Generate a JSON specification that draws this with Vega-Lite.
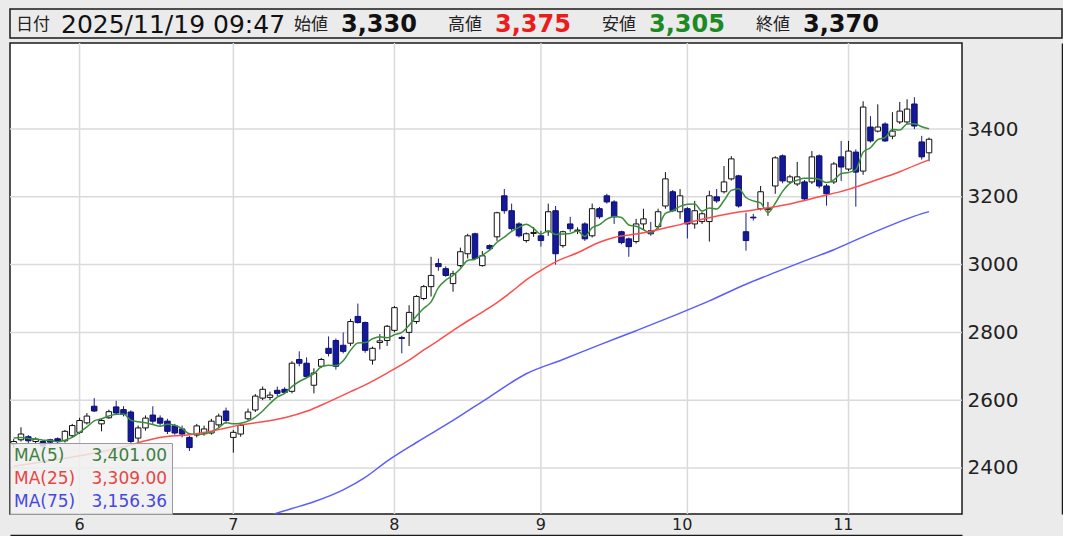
{
"$schema":"https://vega.github.io/schema/vega-lite/v6.json",
"background":"#ebebeb",
"padding":{"left":8,"top":8,"right":0,"bottom":0},
"spacing":2,
"resolve":{"scale":{"x":"independent","y":"independent","color":"independent"},"legend":{"color":"independent"}},
"config":{"font":"DejaVu Sans"},
"datasets":{
"header":[
{"k":"d","lab":"日付","val":"2025/11/19 09:47"},
{"k":"o","lab":"始値","val":"3,330"},
{"k":"h","lab":"高値","val":"3,375"},
{"k":"l","lab":"安値","val":"3,305"},
{"k":"c","lab":"終値","val":"3,370"}
],
"months":[{"d":"2025-06-02"},{"d":"2025-07-01"},{"d":"2025-08-01"},{"d":"2025-09-01"},{"d":"2025-10-01"},{"d":"2025-11-04"}],
"levels":[{"v":2400},{"v":2600},{"v":2800},{"v":3000},{"v":3200},{"v":3400}],
"candles":[
{"d":"2025-05-20","o":2470,"h":2485,"l":2460,"c":2478},
{"d":"2025-05-21","o":2483,"h":2520,"l":2478,"c":2500},
{"d":"2025-05-22","o":2492,"h":2497,"l":2472,"c":2480},
{"d":"2025-05-23","o":2478,"h":2490,"l":2470,"c":2485},
{"d":"2025-05-26","o":2478,"h":2482,"l":2455,"c":2465},
{"d":"2025-05-27","o":2483,"h":2486,"l":2466,"c":2476},
{"d":"2025-05-28","o":2486,"h":2490,"l":2470,"c":2478},
{"d":"2025-05-29","o":2480,"h":2512,"l":2475,"c":2508},
{"d":"2025-05-30","o":2495,"h":2530,"l":2490,"c":2525},
{"d":"2025-06-02","o":2505,"h":2548,"l":2500,"c":2540},
{"d":"2025-06-03","o":2533,"h":2562,"l":2528,"c":2553},
{"d":"2025-06-04","o":2582,"h":2606,"l":2565,"c":2568},
{"d":"2025-06-05","o":2530,"h":2545,"l":2508,"c":2540},
{"d":"2025-06-06","o":2548,"h":2572,"l":2545,"c":2566},
{"d":"2025-06-09","o":2580,"h":2598,"l":2556,"c":2562},
{"d":"2025-06-10","o":2572,"h":2582,"l":2552,"c":2558},
{"d":"2025-06-11","o":2565,"h":2570,"l":2470,"c":2478},
{"d":"2025-06-12","o":2488,"h":2525,"l":2470,"c":2518},
{"d":"2025-06-13","o":2518,"h":2555,"l":2510,"c":2547},
{"d":"2025-06-16","o":2556,"h":2582,"l":2530,"c":2538},
{"d":"2025-06-17","o":2547,"h":2555,"l":2525,"c":2532},
{"d":"2025-06-18","o":2538,"h":2545,"l":2500,"c":2508},
{"d":"2025-06-19","o":2524,"h":2530,"l":2498,"c":2503},
{"d":"2025-06-20","o":2515,"h":2525,"l":2490,"c":2500},
{"d":"2025-06-23","o":2490,"h":2495,"l":2450,"c":2460},
{"d":"2025-06-24","o":2497,"h":2530,"l":2490,"c":2524},
{"d":"2025-06-25","o":2503,"h":2525,"l":2495,"c":2515},
{"d":"2025-06-26","o":2503,"h":2545,"l":2498,"c":2538},
{"d":"2025-06-27","o":2527,"h":2560,"l":2520,"c":2553},
{"d":"2025-06-30","o":2568,"h":2578,"l":2530,"c":2540},
{"d":"2025-07-01","o":2490,"h":2512,"l":2445,"c":2505},
{"d":"2025-07-02","o":2500,"h":2532,"l":2492,"c":2526},
{"d":"2025-07-03","o":2545,"h":2575,"l":2540,"c":2565},
{"d":"2025-07-04","o":2571,"h":2618,"l":2565,"c":2612},
{"d":"2025-07-07","o":2606,"h":2640,"l":2600,"c":2632},
{"d":"2025-07-08","o":2608,"h":2625,"l":2600,"c":2615},
{"d":"2025-07-09","o":2629,"h":2640,"l":2612,"c":2620},
{"d":"2025-07-10","o":2632,"h":2638,"l":2618,"c":2623},
{"d":"2025-07-11","o":2626,"h":2715,"l":2620,"c":2709},
{"d":"2025-07-14","o":2720,"h":2744,"l":2700,"c":2709},
{"d":"2025-07-15","o":2709,"h":2726,"l":2665,"c":2670},
{"d":"2025-07-16","o":2644,"h":2694,"l":2620,"c":2680},
{"d":"2025-07-17","o":2700,"h":2725,"l":2695,"c":2720},
{"d":"2025-07-18","o":2753,"h":2788,"l":2729,"c":2738},
{"d":"2025-07-22","o":2776,"h":2782,"l":2690,"c":2700},
{"d":"2025-07-23","o":2762,"h":2800,"l":2738,"c":2744},
{"d":"2025-07-24","o":2768,"h":2840,"l":2760,"c":2832},
{"d":"2025-07-25","o":2847,"h":2885,"l":2826,"c":2829},
{"d":"2025-07-28","o":2829,"h":2832,"l":2740,"c":2747},
{"d":"2025-07-29","o":2718,"h":2758,"l":2705,"c":2753},
{"d":"2025-07-30","o":2770,"h":2795,"l":2750,"c":2775},
{"d":"2025-07-31","o":2776,"h":2822,"l":2760,"c":2818},
{"d":"2025-08-01","o":2806,"h":2878,"l":2800,"c":2873},
{"d":"2025-08-04","o":2785,"h":2790,"l":2738,"c":2782},
{"d":"2025-08-05","o":2800,"h":2880,"l":2760,"c":2859},
{"d":"2025-08-06","o":2832,"h":2910,"l":2825,"c":2906},
{"d":"2025-08-07","o":2900,"h":2940,"l":2895,"c":2935},
{"d":"2025-08-08","o":2935,"h":3023,"l":2906,"c":2968},
{"d":"2025-08-12","o":3003,"h":3018,"l":2982,"c":2994},
{"d":"2025-08-13","o":2988,"h":2995,"l":2964,"c":2968},
{"d":"2025-08-14","o":2944,"h":2982,"l":2920,"c":2973},
{"d":"2025-08-15","o":2997,"h":3050,"l":2992,"c":3038},
{"d":"2025-08-18","o":3032,"h":3091,"l":3018,"c":3085},
{"d":"2025-08-19","o":3091,"h":3094,"l":3015,"c":3018},
{"d":"2025-08-20","o":2997,"h":3040,"l":2994,"c":3026},
{"d":"2025-08-21","o":3056,"h":3060,"l":3040,"c":3047},
{"d":"2025-08-22","o":3082,"h":3156,"l":3070,"c":3153},
{"d":"2025-08-25","o":3203,"h":3223,"l":3150,"c":3159},
{"d":"2025-08-26","o":3159,"h":3180,"l":3100,"c":3106},
{"d":"2025-08-27","o":3120,"h":3125,"l":3080,"c":3085},
{"d":"2025-08-28","o":3071,"h":3095,"l":3065,"c":3091},
{"d":"2025-08-29","o":3092,"h":3111,"l":3082,"c":3095},
{"d":"2025-09-01","o":3085,"h":3100,"l":3053,"c":3071},
{"d":"2025-09-02","o":3097,"h":3180,"l":3085,"c":3156},
{"d":"2025-09-03","o":3159,"h":3173,"l":3000,"c":3032},
{"d":"2025-09-04","o":3056,"h":3100,"l":3050,"c":3097},
{"d":"2025-09-05","o":3120,"h":3141,"l":3097,"c":3106},
{"d":"2025-09-08","o":3100,"h":3110,"l":3090,"c":3102},
{"d":"2025-09-09","o":3120,"h":3125,"l":3070,"c":3076},
{"d":"2025-09-10","o":3085,"h":3180,"l":3080,"c":3165},
{"d":"2025-09-11","o":3165,"h":3170,"l":3135,"c":3141},
{"d":"2025-09-12","o":3203,"h":3209,"l":3180,"c":3185},
{"d":"2025-09-16","o":3185,"h":3190,"l":3120,"c":3141},
{"d":"2025-09-17","o":3097,"h":3100,"l":3060,"c":3065},
{"d":"2025-09-18","o":3076,"h":3080,"l":3023,"c":3053},
{"d":"2025-09-19","o":3068,"h":3135,"l":3062,"c":3120},
{"d":"2025-09-22","o":3120,"h":3165,"l":3105,"c":3135},
{"d":"2025-09-24","o":3100,"h":3126,"l":3085,"c":3091},
{"d":"2025-09-25","o":3112,"h":3165,"l":3105,"c":3156},
{"d":"2025-09-26","o":3173,"h":3273,"l":3165,"c":3253},
{"d":"2025-09-29","o":3215,"h":3220,"l":3155,"c":3159},
{"d":"2025-09-30","o":3156,"h":3223,"l":3135,"c":3203},
{"d":"2025-10-01","o":3165,"h":3170,"l":3077,"c":3120},
{"d":"2025-10-02","o":3120,"h":3188,"l":3106,"c":3159},
{"d":"2025-10-03","o":3127,"h":3155,"l":3120,"c":3150},
{"d":"2025-10-06","o":3127,"h":3218,"l":3068,"c":3203},
{"d":"2025-10-07","o":3200,"h":3223,"l":3182,"c":3188},
{"d":"2025-10-08","o":3215,"h":3291,"l":3210,"c":3244},
{"d":"2025-10-09","o":3253,"h":3320,"l":3248,"c":3312},
{"d":"2025-10-10","o":3262,"h":3265,"l":3168,"c":3173},
{"d":"2025-10-14","o":3097,"h":3153,"l":3041,"c":3071},
{"d":"2025-10-15","o":3140,"h":3150,"l":3130,"c":3138},
{"d":"2025-10-16","o":3165,"h":3232,"l":3160,"c":3215},
{"d":"2025-10-17","o":3163,"h":3185,"l":3144,"c":3166},
{"d":"2025-10-20","o":3232,"h":3320,"l":3209,"c":3315},
{"d":"2025-10-21","o":3321,"h":3325,"l":3240,"c":3247},
{"d":"2025-10-22","o":3244,"h":3265,"l":3238,"c":3259},
{"d":"2025-10-23","o":3238,"h":3303,"l":3232,"c":3259},
{"d":"2025-10-24","o":3244,"h":3250,"l":3188,"c":3194},
{"d":"2025-10-27","o":3244,"h":3335,"l":3238,"c":3318},
{"d":"2025-10-28","o":3321,"h":3325,"l":3225,"c":3232},
{"d":"2025-10-29","o":3232,"h":3238,"l":3174,"c":3209},
{"d":"2025-10-30","o":3244,"h":3303,"l":3238,"c":3297},
{"d":"2025-10-31","o":3318,"h":3365,"l":3247,"c":3288},
{"d":"2025-11-04","o":3282,"h":3365,"l":3276,"c":3335},
{"d":"2025-11-05","o":3332,"h":3340,"l":3171,"c":3273},
{"d":"2025-11-06","o":3276,"h":3482,"l":3265,"c":3465},
{"d":"2025-11-07","o":3406,"h":3438,"l":3360,"c":3365},
{"d":"2025-11-10","o":3394,"h":3473,"l":3390,"c":3406},
{"d":"2025-11-11","o":3415,"h":3420,"l":3362,"c":3365},
{"d":"2025-11-12","o":3379,"h":3450,"l":3370,"c":3394},
{"d":"2025-11-13","o":3421,"h":3480,"l":3415,"c":3453},
{"d":"2025-11-14","o":3421,"h":3488,"l":3415,"c":3459},
{"d":"2025-11-17","o":3474,"h":3494,"l":3400,"c":3409},
{"d":"2025-11-18","o":3362,"h":3380,"l":3310,"c":3318},
{"d":"2025-11-19","o":3330,"h":3375,"l":3305,"c":3370}
],
"ma":[
{"d":"2025-05-20","s":"MA(5)","v":2488},{"d":"2025-05-21","s":"MA(5)","v":2490},{"d":"2025-05-22","s":"MA(5)","v":2487},{"d":"2025-05-23","s":"MA(5)","v":2485},{"d":"2025-05-26","s":"MA(5)","v":2482},{"d":"2025-05-27","s":"MA(5)","v":2481},{"d":"2025-05-28","s":"MA(5)","v":2477},{"d":"2025-05-29","s":"MA(5)","v":2482},{"d":"2025-05-30","s":"MA(5)","v":2490},
{"d":"2025-06-02","s":"MA(5)","v":2505},{"d":"2025-06-03","s":"MA(5)","v":2521},{"d":"2025-06-04","s":"MA(5)","v":2539},{"d":"2025-06-05","s":"MA(5)","v":2545},{"d":"2025-06-06","s":"MA(5)","v":2553},{"d":"2025-06-09","s":"MA(5)","v":2558},{"d":"2025-06-10","s":"MA(5)","v":2559},{"d":"2025-06-11","s":"MA(5)","v":2541},{"d":"2025-06-12","s":"MA(5)","v":2536},{"d":"2025-06-13","s":"MA(5)","v":2533},{"d":"2025-06-16","s":"MA(5)","v":2528},{"d":"2025-06-17","s":"MA(5)","v":2523},{"d":"2025-06-18","s":"MA(5)","v":2529},{"d":"2025-06-19","s":"MA(5)","v":2526},{"d":"2025-06-20","s":"MA(5)","v":2516},{"d":"2025-06-23","s":"MA(5)","v":2501},{"d":"2025-06-24","s":"MA(5)","v":2499},{"d":"2025-06-25","s":"MA(5)","v":2500},{"d":"2025-06-26","s":"MA(5)","v":2507},{"d":"2025-06-27","s":"MA(5)","v":2518},{"d":"2025-06-30","s":"MA(5)","v":2534},
{"d":"2025-07-01","s":"MA(5)","v":2530},{"d":"2025-07-02","s":"MA(5)","v":2532},{"d":"2025-07-03","s":"MA(5)","v":2538},{"d":"2025-07-04","s":"MA(5)","v":2550},{"d":"2025-07-07","s":"MA(5)","v":2568},{"d":"2025-07-08","s":"MA(5)","v":2590},{"d":"2025-07-09","s":"MA(5)","v":2609},{"d":"2025-07-10","s":"MA(5)","v":2620},{"d":"2025-07-11","s":"MA(5)","v":2640},{"d":"2025-07-14","s":"MA(5)","v":2655},{"d":"2025-07-15","s":"MA(5)","v":2666},{"d":"2025-07-16","s":"MA(5)","v":2678},{"d":"2025-07-17","s":"MA(5)","v":2698},{"d":"2025-07-18","s":"MA(5)","v":2703},{"d":"2025-07-22","s":"MA(5)","v":2702},{"d":"2025-07-23","s":"MA(5)","v":2716},{"d":"2025-07-24","s":"MA(5)","v":2747},{"d":"2025-07-25","s":"MA(5)","v":2769},{"d":"2025-07-28","s":"MA(5)","v":2770},{"d":"2025-07-29","s":"MA(5)","v":2781},{"d":"2025-07-30","s":"MA(5)","v":2787},{"d":"2025-07-31","s":"MA(5)","v":2784},
{"d":"2025-08-01","s":"MA(5)","v":2793},{"d":"2025-08-04","s":"MA(5)","v":2800},{"d":"2025-08-05","s":"MA(5)","v":2821},{"d":"2025-08-06","s":"MA(5)","v":2848},{"d":"2025-08-07","s":"MA(5)","v":2871},{"d":"2025-08-08","s":"MA(5)","v":2890},{"d":"2025-08-12","s":"MA(5)","v":2932},{"d":"2025-08-13","s":"MA(5)","v":2954},{"d":"2025-08-14","s":"MA(5)","v":2968},{"d":"2025-08-15","s":"MA(5)","v":2988},{"d":"2025-08-18","s":"MA(5)","v":3012},{"d":"2025-08-19","s":"MA(5)","v":3016},{"d":"2025-08-20","s":"MA(5)","v":3028},{"d":"2025-08-21","s":"MA(5)","v":3043},{"d":"2025-08-22","s":"MA(5)","v":3066},{"d":"2025-08-25","s":"MA(5)","v":3081},{"d":"2025-08-26","s":"MA(5)","v":3098},{"d":"2025-08-27","s":"MA(5)","v":3110},{"d":"2025-08-28","s":"MA(5)","v":3119},{"d":"2025-08-29","s":"MA(5)","v":3107},
{"d":"2025-09-01","s":"MA(5)","v":3090},{"d":"2025-09-02","s":"MA(5)","v":3100},{"d":"2025-09-03","s":"MA(5)","v":3089},{"d":"2025-09-04","s":"MA(5)","v":3090},{"d":"2025-09-05","s":"MA(5)","v":3092},{"d":"2025-09-08","s":"MA(5)","v":3099},{"d":"2025-09-09","s":"MA(5)","v":3083},{"d":"2025-09-10","s":"MA(5)","v":3109},{"d":"2025-09-11","s":"MA(5)","v":3118},{"d":"2025-09-12","s":"MA(5)","v":3134},{"d":"2025-09-16","s":"MA(5)","v":3142},{"d":"2025-09-17","s":"MA(5)","v":3139},{"d":"2025-09-18","s":"MA(5)","v":3117},{"d":"2025-09-19","s":"MA(5)","v":3113},{"d":"2025-09-22","s":"MA(5)","v":3103},{"d":"2025-09-24","s":"MA(5)","v":3093},{"d":"2025-09-25","s":"MA(5)","v":3111},{"d":"2025-09-26","s":"MA(5)","v":3151},{"d":"2025-09-29","s":"MA(5)","v":3159},{"d":"2025-09-30","s":"MA(5)","v":3172},
{"d":"2025-10-01","s":"MA(5)","v":3178},{"d":"2025-10-02","s":"MA(5)","v":3179},{"d":"2025-10-03","s":"MA(5)","v":3158},{"d":"2025-10-06","s":"MA(5)","v":3167},{"d":"2025-10-07","s":"MA(5)","v":3164},{"d":"2025-10-08","s":"MA(5)","v":3189},{"d":"2025-10-09","s":"MA(5)","v":3219},{"d":"2025-10-10","s":"MA(5)","v":3224},{"d":"2025-10-14","s":"MA(5)","v":3198},{"d":"2025-10-15","s":"MA(5)","v":3188},{"d":"2025-10-16","s":"MA(5)","v":3182},{"d":"2025-10-17","s":"MA(5)","v":3153},{"d":"2025-10-20","s":"MA(5)","v":3181},{"d":"2025-10-21","s":"MA(5)","v":3216},{"d":"2025-10-22","s":"MA(5)","v":3240},{"d":"2025-10-23","s":"MA(5)","v":3249},{"d":"2025-10-24","s":"MA(5)","v":3255},{"d":"2025-10-27","s":"MA(5)","v":3255},{"d":"2025-10-28","s":"MA(5)","v":3252},{"d":"2025-10-29","s":"MA(5)","v":3242},{"d":"2025-10-30","s":"MA(5)","v":3250},{"d":"2025-10-31","s":"MA(5)","v":3269},
{"d":"2025-11-04","s":"MA(5)","v":3272},{"d":"2025-11-05","s":"MA(5)","v":3280},{"d":"2025-11-06","s":"MA(5)","v":3332},{"d":"2025-11-07","s":"MA(5)","v":3345},{"d":"2025-11-10","s":"MA(5)","v":3369},{"d":"2025-11-11","s":"MA(5)","v":3375},{"d":"2025-11-12","s":"MA(5)","v":3399},{"d":"2025-11-13","s":"MA(5)","v":3397},{"d":"2025-11-14","s":"MA(5)","v":3415},{"d":"2025-11-17","s":"MA(5)","v":3416},{"d":"2025-11-18","s":"MA(5)","v":3407},{"d":"2025-11-19","s":"MA(5)","v":3401},
{"d":"2025-05-20","s":"MA(25)","v":2405},{"d":"2025-05-26","s":"MA(25)","v":2418},{"d":"2025-05-30","s":"MA(25)","v":2432},{"d":"2025-06-05","s":"MA(25)","v":2448},{"d":"2025-06-11","s":"MA(25)","v":2468},{"d":"2025-06-13","s":"MA(25)","v":2480},{"d":"2025-06-17","s":"MA(25)","v":2490},{"d":"2025-06-23","s":"MA(25)","v":2498},{"d":"2025-06-27","s":"MA(25)","v":2513},{"d":"2025-07-02","s":"MA(25)","v":2527},{"d":"2025-07-07","s":"MA(25)","v":2536},{"d":"2025-07-10","s":"MA(25)","v":2548},{"d":"2025-07-15","s":"MA(25)","v":2567},{"d":"2025-07-18","s":"MA(25)","v":2595},{"d":"2025-07-24","s":"MA(25)","v":2625},{"d":"2025-07-28","s":"MA(25)","v":2645},{"d":"2025-07-31","s":"MA(25)","v":2680},{"d":"2025-08-05","s":"MA(25)","v":2718},{"d":"2025-08-07","s":"MA(25)","v":2748},{"d":"2025-08-12","s":"MA(25)","v":2776},{"d":"2025-08-15","s":"MA(25)","v":2820},{"d":"2025-08-20","s":"MA(25)","v":2860},{"d":"2025-08-22","s":"MA(25)","v":2888},{"d":"2025-08-26","s":"MA(25)","v":2920},{"d":"2025-08-28","s":"MA(25)","v":2955},{"d":"2025-09-01","s":"MA(25)","v":2983},{"d":"2025-09-03","s":"MA(25)","v":3008},{"d":"2025-09-08","s":"MA(25)","v":3035},{"d":"2025-09-11","s":"MA(25)","v":3066},{"d":"2025-09-16","s":"MA(25)","v":3080},{"d":"2025-09-19","s":"MA(25)","v":3090},{"d":"2025-09-25","s":"MA(25)","v":3103},{"d":"2025-09-30","s":"MA(25)","v":3118},{"d":"2025-10-06","s":"MA(25)","v":3138},{"d":"2025-10-10","s":"MA(25)","v":3155},{"d":"2025-10-16","s":"MA(25)","v":3164},{"d":"2025-10-22","s":"MA(25)","v":3179},{"d":"2025-10-28","s":"MA(25)","v":3200},{"d":"2025-11-04","s":"MA(25)","v":3222},{"d":"2025-11-07","s":"MA(25)","v":3244},{"d":"2025-11-13","s":"MA(25)","v":3274},{"d":"2025-11-17","s":"MA(25)","v":3292},{"d":"2025-11-19","s":"MA(25)","v":3309},
{"d":"2025-07-04","s":"MA(75)","v":2245},{"d":"2025-07-08","s":"MA(75)","v":2260},{"d":"2025-07-11","s":"MA(75)","v":2280},{"d":"2025-07-16","s":"MA(75)","v":2300},{"d":"2025-07-23","s":"MA(75)","v":2335},{"d":"2025-07-28","s":"MA(75)","v":2372},{"d":"2025-07-31","s":"MA(75)","v":2420},{"d":"2025-08-06","s":"MA(75)","v":2475},{"d":"2025-08-14","s":"MA(75)","v":2540},{"d":"2025-08-21","s":"MA(75)","v":2610},{"d":"2025-08-28","s":"MA(75)","v":2678},{"d":"2025-09-04","s":"MA(75)","v":2720},{"d":"2025-09-11","s":"MA(75)","v":2763},{"d":"2025-09-19","s":"MA(75)","v":2805},{"d":"2025-09-29","s":"MA(75)","v":2848},{"d":"2025-10-06","s":"MA(75)","v":2893},{"d":"2025-10-14","s":"MA(75)","v":2942},{"d":"2025-10-20","s":"MA(75)","v":2977},{"d":"2025-10-24","s":"MA(75)","v":3011},{"d":"2025-10-30","s":"MA(75)","v":3044},{"d":"2025-11-06","s":"MA(75)","v":3082},{"d":"2025-11-12","s":"MA(75)","v":3118},{"d":"2025-11-17","s":"MA(75)","v":3143},{"d":"2025-11-19","s":"MA(75)","v":3156.36}
]
},
"vconcat":[
{
"width":1052,"height":29,
"view":{"fill":"#ebebeb","stroke":"#1a1a1a","strokeWidth":1.5},
"data":{"name":"header"},
"encoding":{"x":{"field":"k","type":"nominal","scale":{"type":"point","domain":["d","gap","o","h","l","c"],"padding":0.9156,"align":0},"axis":null}},
"layer":[
{"transform":[{"filter":"datum.k == 'd'"}],"mark":{"type":"text","align":"left","baseline":"middle","dx":6,"dy":1,"fontSize":17,"font":"Noto Sans CJK JP","color":"#222222"},"encoding":{"text":{"field":"lab"}}},
{"transform":[{"filter":"datum.k == 'd'"}],"mark":{"type":"text","align":"left","baseline":"middle","dx":51,"dy":1,"fontSize":25,"font":"DejaVu Sans","color":"#111111"},"encoding":{"text":{"field":"val"}}},
{"transform":[{"filter":"datum.k != 'd'"}],"mark":{"type":"text","align":"left","baseline":"middle","dx":-24,"dy":1,"fontSize":17,"font":"Noto Sans CJK JP","color":"#222222"},"encoding":{"text":{"field":"lab"}}},
{"transform":[{"filter":"datum.k == 'o' || datum.k == 'c'"}],"mark":{"type":"text","align":"left","baseline":"middle","dx":23,"dy":1,"fontSize":24,"fontWeight":"bold","font":"DejaVu Sans","color":"#111111"},"encoding":{"text":{"field":"val"}}},
{"transform":[{"filter":"datum.k == 'h'"}],"mark":{"type":"text","align":"left","baseline":"middle","dx":23,"dy":1,"fontSize":24,"fontWeight":"bold","font":"DejaVu Sans","color":"#ea1c1c"},"encoding":{"text":{"field":"val"}}},
{"transform":[{"filter":"datum.k == 'l'"}],"mark":{"type":"text","align":"left","baseline":"middle","dx":23,"dy":1,"fontSize":24,"fontWeight":"bold","font":"DejaVu Sans","color":"#1b8a22"},"encoding":{"text":{"field":"val"}}}
]
},
{
"width":952,"height":471,
"view":{"fill":"white","stroke":"#1a1a1a","strokeWidth":1.5},
"layer":[
{"data":{"name":"months"},"mark":{"type":"rule","color":"#dadada","strokeWidth":1.5},"encoding":{"x":{"field":"d","type":"ordinal"}}},
{"data":{"name":"levels"},"mark":{"type":"rule","color":"#dadada","strokeWidth":1.5},"encoding":{"y":{"field":"v","type":"quantitative"}}},
{"data":{"name":"candles"},"mark":{"type":"rule","strokeWidth":1},
"encoding":{
"x":{"field":"d","type":"ordinal","scale":{"type":"band","paddingInner":0,"paddingOuter":0,"domain":["2025-05-20","2025-05-21","2025-05-22","2025-05-23","2025-05-26","2025-05-27","2025-05-28","2025-05-29","2025-05-30","2025-06-02","2025-06-03","2025-06-04","2025-06-05","2025-06-06","2025-06-09","2025-06-10","2025-06-11","2025-06-12","2025-06-13","2025-06-16","2025-06-17","2025-06-18","2025-06-19","2025-06-20","2025-06-23","2025-06-24","2025-06-25","2025-06-26","2025-06-27","2025-06-30","2025-07-01","2025-07-02","2025-07-03","2025-07-04","2025-07-07","2025-07-08","2025-07-09","2025-07-10","2025-07-11","2025-07-14","2025-07-15","2025-07-16","2025-07-17","2025-07-18","2025-07-22","2025-07-23","2025-07-24","2025-07-25","2025-07-28","2025-07-29","2025-07-30","2025-07-31","2025-08-01","2025-08-04","2025-08-05","2025-08-06","2025-08-07","2025-08-08","2025-08-12","2025-08-13","2025-08-14","2025-08-15","2025-08-18","2025-08-19","2025-08-20","2025-08-21","2025-08-22","2025-08-25","2025-08-26","2025-08-27","2025-08-28","2025-08-29","2025-09-01","2025-09-02","2025-09-03","2025-09-04","2025-09-05","2025-09-08","2025-09-09","2025-09-10","2025-09-11","2025-09-12","2025-09-16","2025-09-17","2025-09-18","2025-09-19","2025-09-22","2025-09-24","2025-09-25","2025-09-26","2025-09-29","2025-09-30","2025-10-01","2025-10-02","2025-10-03","2025-10-06","2025-10-07","2025-10-08","2025-10-09","2025-10-10","2025-10-14","2025-10-15","2025-10-16","2025-10-17","2025-10-20","2025-10-21","2025-10-22","2025-10-23","2025-10-24","2025-10-27","2025-10-28","2025-10-29","2025-10-30","2025-10-31","2025-11-04","2025-11-05","2025-11-06","2025-11-07","2025-11-10","2025-11-11","2025-11-12","2025-11-13","2025-11-14","2025-11-17","2025-11-18","2025-11-19","2025-11-20","2025-11-21","2025-11-25","2025-11-26"]},
"axis":{"values":["2025-06-02","2025-07-01","2025-08-01","2025-09-01","2025-10-01","2025-11-04"],"labelExpr":"toNumber(substring(datum.value,5,7))","grid":false,"ticks":false,"tickSize":0,"domain":true,"domainColor":"#1a1a1a","domainWidth":1.5,"offset":21,"labelPadding":-11,"labelBaseline":"middle","labelAngle":0,"labelOffset":5,"labelFontSize":16,"labelFont":"DejaVu Sans","labelColor":"#222222","title":null}},
"y":{"field":"l","type":"quantitative","scale":{"domain":[2264,3654],"nice":false,"zero":false},
"axis":{"orient":"right","values":[2400,2600,2800,3000,3200,3400],"format":"d","grid":false,"ticks":false,"tickSize":0,"domain":true,"domainColor":"#1a1a1a","domainWidth":1.5,"offset":100,"labelPadding":-95,"labelAlign":"left","labelFontSize":20,"labelFont":"DejaVu Sans","labelColor":"#222222","title":null}},
"y2":{"field":"h"},
"color":{"condition":{"test":"datum.c >= datum.o","value":"#111111"},"value":"#1a1f86"}
}},
{"data":{"name":"candles"},"mark":{"type":"bar","width":{"band":0.75},"strokeWidth":1},
"encoding":{
"x":{"field":"d","type":"ordinal"},
"y":{"field":"o","type":"quantitative"},
"y2":{"field":"c"},
"fill":{"condition":{"test":"datum.c >= datum.o","value":"#ffffff"},"value":"#14189a"},
"stroke":{"condition":{"test":"datum.c >= datum.o","value":"#111111"},"value":"#0c0f6a"}
}},
{"data":{"name":"ma"},"mark":{"type":"line","strokeWidth":1.5,"interpolate":"monotone","clip":true},
"encoding":{
"x":{"field":"d","type":"ordinal"},
"y":{"field":"v","type":"quantitative"},
"color":{"field":"s","type":"nominal","scale":{"domain":["MA(5)","MA(25)","MA(75)"],"range":["#3a8f3a","#ff4d4d","#5c5cff"]},
"legend":{"orient":"bottom-left","direction":"vertical","offset":0,"title":null,"padding":4,"fillColor":"rgba(238,238,238,0.85)","strokeColor":"#9a9a9a","labelFontSize":17,"labelFont":"DejaVu Sans","labelLimit":300,"symbolType":"circle","symbolSize":0,"symbolStrokeWidth":0,"symbolOpacity":0,"labelOffset":-17,"rowPadding":5,
"labelExpr":"datum.label == 'MA(5)' ? 'MA(5)\u00a0\u00a0\u00a0\u00a0\u00a03,401.00' : datum.label == 'MA(25)' ? 'MA(25)\u00a0\u00a0\u00a03,309.00' : 'MA(75)\u00a0\u00a0\u00a03,156.36'",
"encode":{"labels":{"update":{"fill":[{"test":"datum.value == 'MA(5)'","value":"#3f7f3f"},{"test":"datum.value == 'MA(25)'","value":"#e84545"},{"value":"#4848e0"}]}}}}}
}}
]
}
]
}
